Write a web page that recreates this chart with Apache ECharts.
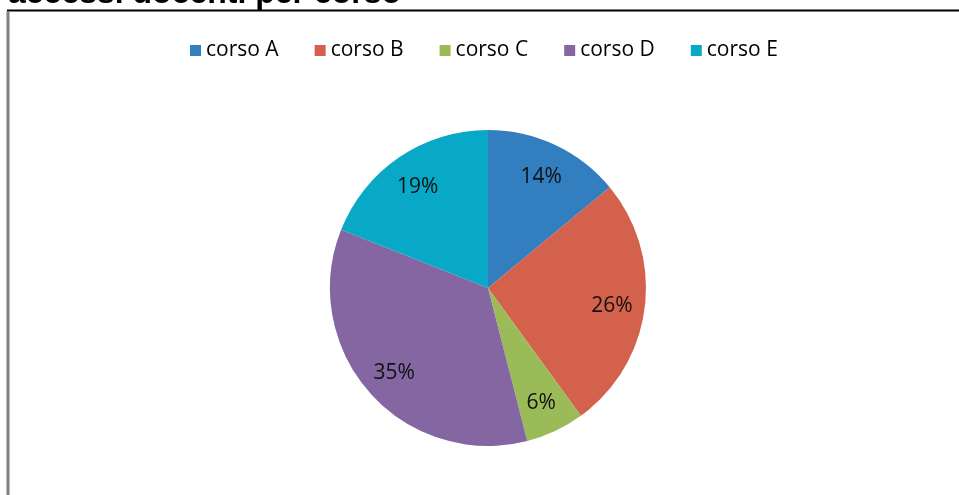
<!DOCTYPE html>
<html>
<head>
<meta charset="utf-8">
<script src="https://cdn.jsdelivr.net/npm/echarts@6/dist/echarts.min.js"></script>
<style>
  html, body { margin: 0; padding: 0; background: #fff; }
  #main { width: 959px; height: 495px; }
</style>
</head>
<body>
<div id="main"></div>
<script>
// dati del grafico
var corsi = ['corso A', 'corso B', 'corso C', 'corso D', 'corso E'];
var percentuali = [14, 26, 6, 35, 19];
var colori = ['#337ebe', '#d4614c', '#9bbb59', '#8466a2', '#08a9c6'];

var myChart = echarts.init(document.getElementById('main'));

var dati = corsi.map(function (c, i) {
    return { name: c, value: percentuali[i] };
});

myChart.setOption({
    animation: false,
    color: colori,
    title: {
        text: 'accessi docenti per corso',
        left: 3,
        top: -27,
        textStyle: {
            fontFamily: 'Liberation Sans',
            fontWeight: 'bold',
            fontSize: 32,
            color: '#000'
        }
    },
    legend: {
        data: corsi,
        left: 185,
        top: 35,
        itemWidth: 11,
        itemHeight: 11,
        itemGap: 36,
        icon: 'rect',
        textStyle: {
            fontFamily: 'Open Sans',
            fontSize: 21,
            color: '#000'
        }
    },
    graphic: [
        { type: 'line', shape: { x1: 7, y1: 10.5, x2: 959, y2: 10.5 }, style: { stroke: '#000', lineWidth: 2 }, z: 10 },
        { type: 'line', shape: { x1: 8, y1: 11, x2: 8, y2: 495 }, style: { stroke: '#808080', lineWidth: 3 }, z: 10 }
    ],
    series: [
        {
            // spicchi
            type: 'pie',
            center: [488, 288],
            radius: [0, 158],
            startAngle: 90,
            clockwise: true,
            label: { show: false },
            labelLine: { show: false },
            data: dati
        },
        {
            // etichette percentuali
            type: 'pie',
            center: [488, 290],
            radius: [0, 244],
            startAngle: 90,
            clockwise: true,
            silent: true,
            z: 5,
            itemStyle: { color: 'rgba(0,0,0,0)' },
            label: {
                show: true,
                position: 'inside',
                formatter: '{c}%',
                fontFamily: 'Open Sans',
                fontSize: 21,
                color: '#111'
            },
            data: dati
        }
    ]
});
</script>
</body>
</html>
